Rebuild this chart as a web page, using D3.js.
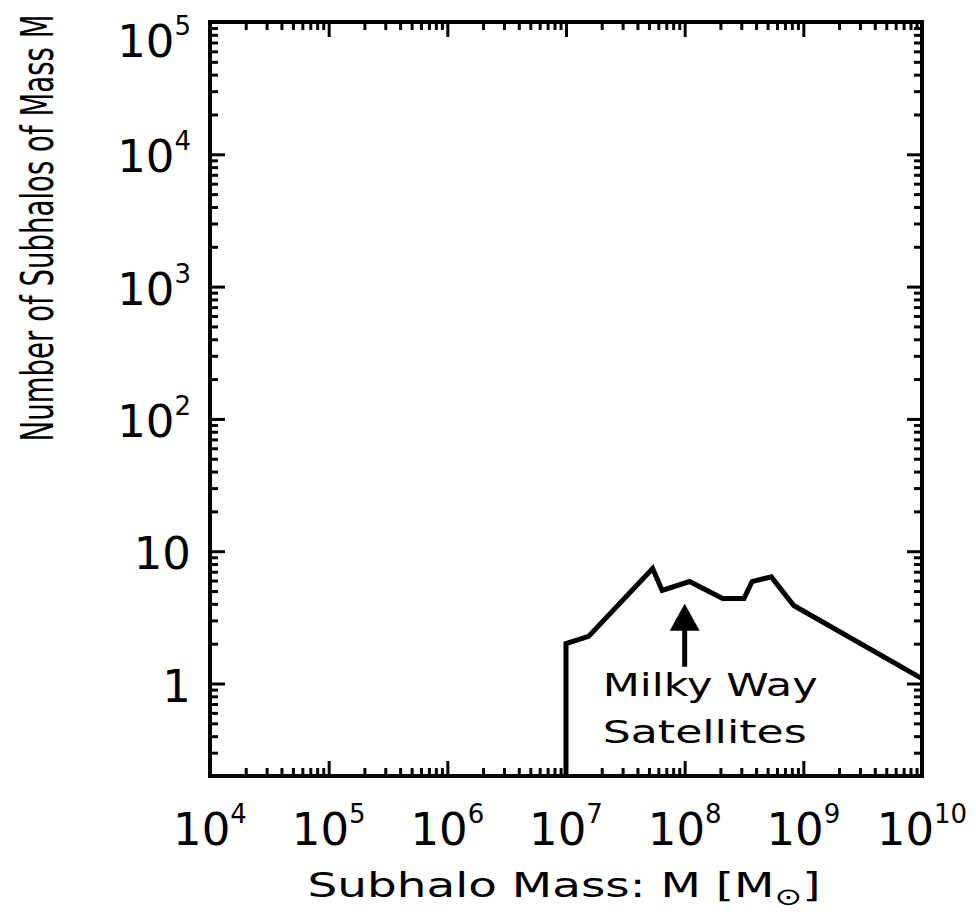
<!DOCTYPE html>
<html>
<head>
<meta charset="utf-8">
<script src="https://cdn.jsdelivr.net/npm/d3@7"></script>
<style>
  body { margin: 0; background: #fff; }
  text { font-family: "DejaVu Sans", sans-serif; fill: #000; }
</style>
</head>
<body>
<div id="chart"></div>
<script>
// subhalo mass function
var masses = [1e7, 1e7, 1.55e7, 5.37e7, 6.46e7, 1.1e8, 2.09e8, 3.16e8, 3.7e8, 5.37e8, 8.3e8, 1e10];
var counts = [0.1, 2.0, 2.27, 7.4, 5.05, 5.9, 4.39, 4.39, 5.9, 6.4, 3.89, 1.09];

var xDecades = [4, 5, 6, 7, 8, 9, 10];
var yMajor = [1, 10, 100, 1000, 10000, 100000];
var yLabels = [["1", ""], ["10", ""], ["10", "2"], ["10", "3"], ["10", "4"], ["10", "5"]];

// arrow pointing at the satellites
var arrowMass = 1e8,
    arrowFrom = 1.34,
    arrowTo = 4.0;

var W = 976, H = 917;
var margin = { top: 22, left: 210, right: 54, bottom: 141 };
var w = W - margin.left - margin.right,
    h = H - margin.top - margin.bottom;

var svg = d3.select("#chart").append("svg")
    .attr("width", W)
    .attr("height", H);

var x = d3.scaleLog().domain([1e4, 1e10]).range([0, w]);
var y = d3.scaleLog().domain([0.2, 1e5]).range([h, 0]);

var g = svg.append("g").attr("transform", "translate(" + margin.left + "," + margin.top + ")");

// tick values: majors and minors
var xMinor = [], yMinor = [];
for (var d = 4; d < 10; d++) {
    for (var k = 2; k <= 9; k++) xMinor.push(k * Math.pow(10, d));
}
for (var d2 = -1; d2 < 5; d2++) {
    for (var k2 = 2; k2 <= 9; k2++) {
        var v = k2 * Math.pow(10, d2);
        if (v > 0.2 && v < 1e5) yMinor.push(v);
    }
}
var xMajor = xDecades.map(function (e) { return Math.pow(10, e); });

function styleAxis(sel) {
    sel.select(".domain").remove();
    sel.selectAll(".tick line").attr("stroke", "#000").attr("stroke-width", 3);
    sel.selectAll(".tick text").remove();
}

// stretch a text horizontally (along its baseline) to a given width
function stretch(t, width) {
    var bw = t.node().getBBox().width;
    t.attr("transform", "scale(" + (width / bw) + ",1)");
}

// ticks on all four sides, pointing in
[[d3.axisBottom, "translate(0," + h + ")"], [d3.axisTop, "translate(0,0)"]].forEach(function (a) {
    g.append("g").attr("transform", a[1])
        .call(a[0](x).tickValues(xMajor).tickSize(-15)).call(styleAxis);
    g.append("g").attr("transform", a[1])
        .call(a[0](x).tickValues(xMinor).tickSize(-8)).call(styleAxis);
});
[[d3.axisLeft, "translate(0,0)"], [d3.axisRight, "translate(" + w + ",0)"]].forEach(function (a) {
    g.append("g").attr("transform", a[1])
        .call(a[0](y).tickValues(yMajor).tickSize(-15)).call(styleAxis);
    g.append("g").attr("transform", a[1])
        .call(a[0](y).tickValues(yMinor).tickSize(-8)).call(styleAxis);
});

// frame
g.append("rect")
    .attr("width", w).attr("height", h)
    .attr("fill", "none").attr("stroke", "#000").attr("stroke-width", 4);

// x tick labels
xDecades.forEach(function (e) {
    var t = g.append("text")
        .attr("x", x(Math.pow(10, e)))
        .attr("y", h + 69)
        .attr("text-anchor", "middle")
        .style("font-size", "45px");
    t.append("tspan").text("10");
    t.append("tspan").attr("dy", -22).style("font-size", "26px").text(e);
});

// y tick labels (top one pushed down so it stays in the picture)
yMajor.forEach(function (v, i) {
    var t = g.append("text")
        .attr("x", -19)
        .attr("y", Math.max(y(v) + 18, 35))
        .attr("text-anchor", "end")
        .style("font-size", "45px");
    t.append("tspan").text(yLabels[i][0]);
    if (yLabels[i][1]) t.append("tspan").attr("dy", -22).style("font-size", "26px").text(yLabels[i][1]);
});

// axis titles
var xt = svg.append("g")
    .attr("transform", "translate(" + (margin.left + w / 2 - 2) + ",897)")
    .append("text")
    .attr("text-anchor", "middle")
    .style("font-size", "34px");
xt.append("tspan").text("Subhalo Mass: M [M");
xt.append("tspan").attr("dy", 8).style("font-size", "24px").text("⊙");
xt.append("tspan").attr("dy", -8).text("]");
stretch(xt, 513);

var yt = svg.append("g")
    .attr("transform", "translate(53,228) rotate(-90)")
    .append("text")
    .attr("text-anchor", "middle")
    .style("font-size", "44px")
    .text("Number of Subhalos of Mass M");
stretch(yt, 427);

// curve
svg.append("clipPath").attr("id", "clip")
    .append("rect").attr("width", w).attr("height", h);

var line = d3.line()
    .x(function (d) { return x(d[0]); })
    .y(function (d) { return y(d[1]); });

g.append("path")
    .datum(d3.zip(masses, counts))
    .attr("clip-path", "url(#clip)")
    .attr("d", line)
    .attr("fill", "none")
    .attr("stroke", "#000")
    .attr("stroke-width", 5)
    .attr("stroke-linejoin", "miter");

// arrow
var ax = x(arrowMass), ay0 = y(arrowFrom), ay1 = y(arrowTo);
g.append("line")
    .attr("x1", ax).attr("x2", ax)
    .attr("y1", ay0).attr("y2", ay1 + 20)
    .attr("stroke", "#000").attr("stroke-width", 5);
g.append("path")
    .attr("d", "M" + ax + "," + ay1 + "L" + (ax - 15) + "," + (ay1 + 27) + "L" + (ax + 15) + "," + (ay1 + 27) + "Z")
    .attr("fill", "#000");

// annotation
var annX = x(2.04e7);
var a1 = g.append("g").attr("transform", "translate(" + annX + "," + y(0.8) + ")")
    .append("text").style("font-size", "32px").text("Milky Way");
stretch(a1, 215);
var a2 = g.append("g").attr("transform", "translate(" + annX + "," + (y(0.8) + 47) + ")")
    .append("text").style("font-size", "32px").text("Satellites");
stretch(a2, 204);
</script>
</body>
</html>
